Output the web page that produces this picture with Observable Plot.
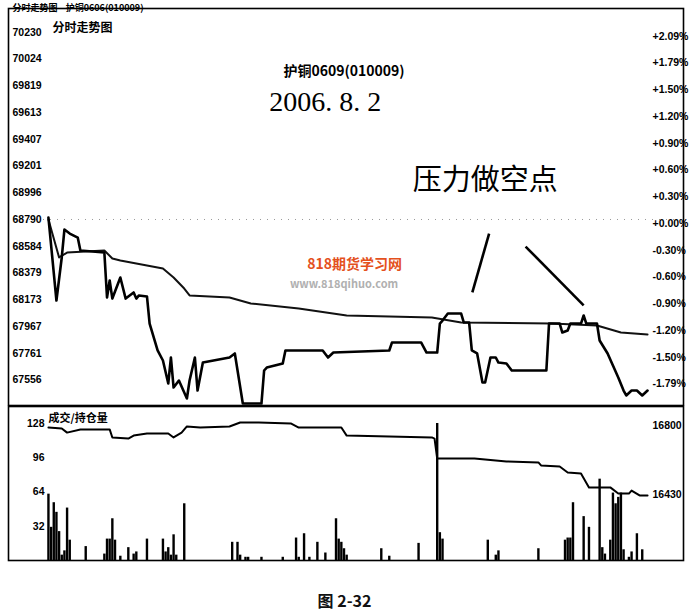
<!DOCTYPE html>
<html><head><meta charset="utf-8">
<script src="https://cdn.jsdelivr.net/npm/d3@7"></script>
<script src="https://cdn.jsdelivr.net/npm/@observablehq/plot@0.6"></script>
<style>
body{margin:0;background:#fff;}
#wrap{position:relative;width:689px;height:616px;overflow:hidden;background:#fff;}
#wrap svg{position:absolute;left:0;}
#cap{position:absolute;left:0;width:689px;top:588px;text-align:center;font:bold 16px "Noto Sans CJK SC",sans-serif;color:#111;}
</style></head><body>
<div id="wrap"><div id="cap">图 2-32</div></div>
<script>
// ---- data ----
const prevClose = 68790;
const priceTicks = [70230,70024,69819,69613,69407,69201,68996,68790,68584,68379,68173,67967,67761,67556];
const pctLabels = ["+2.09%","+1.79%","+1.50%","+1.20%","+0.90%","+0.60%","+0.30%","+0.00%","-0.30%","-0.60%","-0.90%","-1.20%","-1.50%","-1.79%"];

const priceMinute = [0,3,5,6,8,11,12,21,22,23,24,27,29,32,33,34,37,38,41,43,45,46,47,49,52,53,55,56,58,68,70,73,80,81,82,85,88,89,103,105,107,128,129,140,142,146,147,148,150,155,156,158,159,161,163,164,166,168,169,172,174,187,188,192,193,195,196,200,201,202,206,207,210,212,214,216,217,219,221,223,225];
const priceValue  = [68805,68167,68498,68713,68682,68651,68552,68536,68190,68321,68182,68344,68182,68229,68182,68206,68198,67990,67783,67706,67529,67729,67498,67552,67414,67552,67729,67475,67690,67729,67760,67375,67375,67629,67652,67667,67683,67783,67783,67729,67767,67783,67844,67844,67767,67767,67990,68013,68067,68067,67998,67998,67783,67760,67537,67537,67729,67729,67690,67683,67629,67629,67990,67990,67921,67937,67990,67990,68052,67990,67990,67860,67760,67667,67575,67475,67437,67475,67475,67437,67475];

const avgMinute = [0,4,7,21,24,27,37,43,47,51,53,68,76,94,112,144,155,189,206,215,225];
const avgValue  = [68790,68498,68536,68552,68490,68475,68436,68413,68344,68259,68206,68190,68144,68106,68052,68036,67998,67990,67975,67921,67906];

const volTicks = [128,96,64,32];
const volMinute = [0,1,2,3,4,5,6,7,8,14,21,22,23,24,25,27,30,32,33,37,43,44,45,46,47,48,51,69,71,72,74,75,80,88,93,94,96,98,101,104,108,109,110,111,112,125,128,139,146,147,148,165,168,169,184,194,195,196,197,201,203,207,208,209,211,212,213,214,215,216,218,219,221,223];
const volValue  = [62,31,54,45,27,5,9,49,19,13,6,20,20,39,19,4,12,6,8,20,20,8,12,5,24,5,53,17,17,5,3,3,3,3,21,3,25,3,17,7,39,20,17,11,5,11,4,16,128,26,20,19,5,9,11,19,21,21,54,41,31,76,12,6,19,63,53,59,63,10,3,8,25,10];

const oiTicks = [16800,16430];
const oiMinute = [0,5,7,12,23,24,30,32,37,45,47,50,52,57,68,72,79,91,94,110,112,144,145,146,160,172,184,185,192,195,200,203,211,214,218,219,222,225];
const oiValue  = [16789,16784,16762,16779,16779,16736,16730,16746,16757,16757,16736,16762,16795,16789,16795,16816,16816,16811,16789,16789,16746,16736,16730,16623,16623,16607,16602,16586,16580,16548,16543,16468,16468,16435,16435,16451,16425,16425];

// annotation anchors (data units)
const headNotes = [
  {label:"护铜0609(010009)", m:111, p:69925},
  {label:"2006. 8. 2", m:104, p:69690},
  {label:"压力做空点", m:164, p:69090}
];
const arrows = [
  {m1:165.5, p1:68682, m2:159.2, p2:68229},
  {m1:179.2, p1:68582, m2:201, p2:68130}
];
const watermark = [
  {label:"818期货学习网", m:115, p:68445, size:14, color:"#e4511d"},
  {label:"www.818qihuo.com", m:111, p:68290, size:11, color:"#b0b0b0"}
];

// ---- build tables ----
const price = priceMinute.map((m,i)=>({m, p:priceValue[i]}));
const avg = avgMinute.map((m,i)=>({m, p:avgValue[i]}));
const vol = volMinute.map((m,i)=>({m, v:volValue[i]}));
const oi = oiMinute.map((m,i)=>({m, v:oiValue[i]}));

const xdom = [-15, 238.5];
const font = "Liberation Sans, Arial, sans-serif";
const wrap = document.getElementById("wrap");

const upper = Plot.plot({
  width:689, height:406, marginLeft:8, marginRight:6, marginTop:8, marginBottom:1,
  x:{domain:xdom, axis:null},
  y:{domain:[67360,70412], axis:null},
  style:{background:"transparent", fontFamily:font, color:"#000"},
  marks:[
    Plot.ruleY([prevClose], {stroke:"#9a9a9a", strokeDasharray:"1,6"}),
    Plot.text(watermark, {x:"m", y:"p", text:"label", fontSize:d=>d.size, fill:d=>d.color, fontWeight:"bold", fontFamily:"Noto Sans CJK SC", letterSpacing:1}),
    Plot.line(avg, {x:"m", y:"p", stroke:"#111", strokeWidth:2}),
    Plot.line(price, {x:"m", y:"p", stroke:"#000", strokeWidth:2.6, strokeLinejoin:"round"}),
    Plot.link(arrows, {x1:"m1", y1:"p1", x2:"m2", y2:"p2", stroke:"#000", strokeWidth:2.6}),
    Plot.text(headNotes.slice(0,1), {x:"m", y:"p", text:"label", fontSize:14, fontWeight:"bold", fontFamily:"Noto Sans CJK SC"}),
    Plot.text(headNotes.slice(1,2), {x:"m", y:"p", text:"label", fontSize:28, fontFamily:"Liberation Serif"}),
    Plot.text(headNotes.slice(2,3), {x:"m", y:"p", text:"label", fontSize:29, fontFamily:"Noto Sans CJK SC"}),
    Plot.text(priceTicks, {y:d=>d, text:d=>String(d), frameAnchor:"left", dx:4, textAnchor:"start", fontSize:10.5, fontWeight:"bold"}),
    Plot.text(priceTicks, {y:d=>d, text:(d,i)=>pctLabels[i], frameAnchor:"right", dx:-31, dy:4, textAnchor:"start", fontSize:10.5, fontWeight:"bold"}),
    Plot.text(["分时走势图"], {text:d=>d, frameAnchor:"top-left", dx:44, dy:15, textAnchor:"start", fontSize:12, fontWeight:"bold", fontFamily:"Noto Sans CJK SC"}),
    Plot.text(["分时走势图—护铜0606(010009)"], {text:d=>d, frameAnchor:"top-left", dx:4, dy:-4, textAnchor:"start", fontSize:9, fontWeight:"bold", fontFamily:"Noto Sans CJK SC"}),
    Plot.frame({stroke:"#000", strokeWidth:1.6})
  ]
});
upper.style.top = "0px";
wrap.appendChild(upper);

const lowerVol = Plot.plot({
  width:689, height:157, marginLeft:8, marginRight:6, marginTop:1, marginBottom:2,
  x:{domain:xdom, axis:null},
  y:{domain:[0,143.9], axis:null},
  style:{background:"transparent", fontFamily:font, color:"#000"},
  marks:[
    Plot.ruleX(vol, {x:"m", y1:0, y2:"v", stroke:"#000", strokeWidth:2.4}),
    Plot.text(volTicks, {y:d=>d, text:d=>String(d), frameAnchor:"left", dx:36, textAnchor:"end", fontSize:10.5, fontWeight:"bold"}),
    Plot.text(["成交/持仓量"], {text:d=>d, frameAnchor:"top-left", dx:40, dy:8, textAnchor:"start", fontSize:11, fontWeight:"bold", fontFamily:"Noto Sans CJK SC"}),
    Plot.frame({stroke:"#000", strokeWidth:1.6})
  ]
});
lowerVol.style.top = "405px";
wrap.appendChild(lowerVol);

const lowerOI = Plot.plot({
  width:689, height:157, marginLeft:8, marginRight:6, marginTop:1, marginBottom:2,
  x:{domain:xdom, axis:null},
  y:{domain:[16076,16902], axis:null},
  style:{background:"transparent", fontFamily:font, color:"#000"},
  marks:[
    Plot.line(oi, {x:"m", y:"v", stroke:"#000", strokeWidth:2}),
    Plot.text(oiTicks, {y:d=>d, text:d=>String(d), frameAnchor:"right", dx:-31, textAnchor:"start", fontSize:10.5, fontWeight:"bold"})
  ]
});
lowerOI.style.top = "405px";
wrap.appendChild(lowerOI);
</script>
</body></html>
